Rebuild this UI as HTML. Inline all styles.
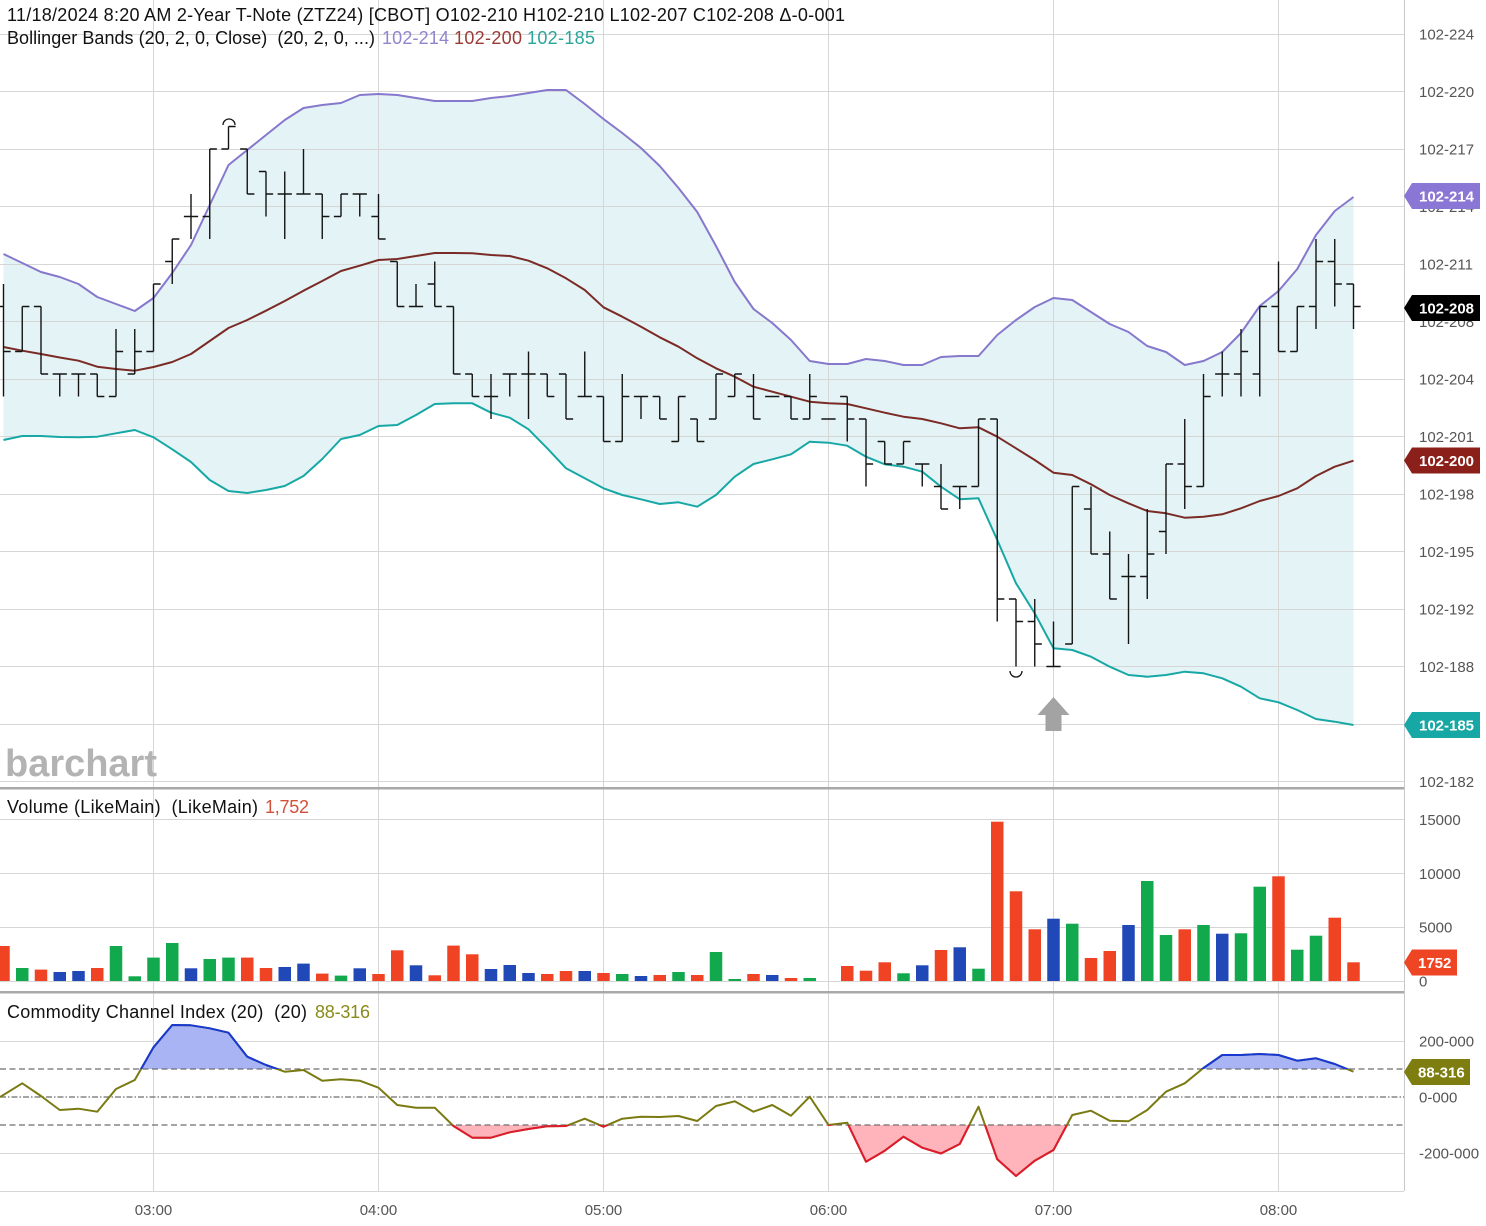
<!DOCTYPE html>
<html><head><meta charset="utf-8"><style>html,body{margin:0;padding:0;background:#fff}svg{display:block}</style></head>
<body>
<svg xmlns="http://www.w3.org/2000/svg" width="1486" height="1226" viewBox="0 0 1486 1226" font-family="'Liberation Sans', Arial, sans-serif">
<rect width="1486" height="1226" fill="#fff"/>
<defs>
<clipPath id="pc"><rect x="0" y="0" width="1404" height="787"/></clipPath>
<clipPath id="pl"><rect x="1405" y="0" width="81" height="787"/></clipPath>
<clipPath id="above"><rect x="0" y="993" width="1404" height="76"/></clipPath>
<clipPath id="below"><rect x="0" y="1125" width="1404" height="66"/></clipPath>
<polyline id="cci" points="0,1097 22.25,1083.3 41,1096 59.75,1110 78.5,1108.7 97.25,1111.7 116,1089 134.75,1080 153.5,1047.3 172.25,1025 191,1025.3 209.75,1028.3 228.5,1032.7 247.25,1056.7 266,1065 284.75,1071.7 303.5,1070 322.25,1080.7 341,1079.3 359.75,1080.7 378.5,1087.7 397.25,1105 416,1107.7 434.75,1107.7 453.5,1126 472.25,1137.7 491,1137.7 509.75,1132.3 528.5,1129 547.25,1126.3 566,1126 584.75,1118.7 603.5,1126.7 622.25,1118.7 641,1116.7 659.75,1117 678.5,1116 697.25,1121 716,1106 734.75,1101.3 753.5,1111.7 772.25,1105 791,1115.7 809.75,1096.7 828.5,1125 847.25,1122.7 866,1161.7 884.75,1150.7 903.5,1136.7 922.25,1147.7 941,1153.5 959.75,1144 978.5,1106.7 997.25,1159.3 1016,1176 1034.75,1160.7 1053.5,1150 1072.25,1115 1091,1110.7 1109.75,1120.7 1128.5,1121.3 1147.25,1110 1166,1091.7 1184.75,1083.3 1203.5,1068 1222.25,1055 1241,1055 1259.75,1054 1278.5,1055 1297.25,1060.7 1316,1058.3 1334.75,1064 1353.5,1071.7"/>
</defs>

<!-- Bollinger fill -->
<polygon fill="#e4f3f5" points="3.5,254 22.25,263 41,272 59.75,277 78.5,284 97.25,297 116,304 134.75,311 153.5,298 172.25,273 191,245 209.75,205 228.5,165 247.25,150 266,135 284.75,120 303.5,108 322.25,105 341,103 359.75,95 378.5,94 397.25,95 416,98 434.75,101 453.5,101 472.25,101 491,98 509.75,96 528.5,93 547.25,90 566,90 584.75,104 603.5,119 622.25,133 641,148 659.75,166 678.5,188 697.25,212 716,246 734.75,282 753.5,309 772.25,323 791,340 809.75,361 828.5,364 847.25,364 866,359 884.75,361 903.5,365 922.25,365 941,357 959.75,356 978.5,356 997.25,335 1016,320 1034.75,307 1053.5,298 1072.25,300 1091,312 1109.75,324 1128.5,332 1147.25,346 1166,352 1184.75,365 1203.5,361 1222.25,352 1241,333 1259.75,306 1278.5,291 1297.25,269 1316,235 1334.75,211 1353.5,197 1353.5,725 1334.75,721.7 1316,719 1297.25,710 1278.5,702.3 1259.75,698.3 1241,686.7 1222.25,678.3 1203.5,673.3 1184.75,671.7 1166,675 1147.25,676.7 1128.5,675 1109.75,666.7 1091,656.7 1072.25,650 1053.5,648.3 1034.75,613.3 1016,583.3 997.25,540 978.5,498.3 959.75,499.3 941,486.7 922.25,471.7 903.5,466.7 884.75,464.3 866,456.7 847.25,445.7 828.5,442.7 809.75,441.7 791,454.3 772.25,459.3 753.5,464 734.75,476.7 716,495 697.25,506.7 678.5,502.3 659.75,504 641,499.3 622.25,495 603.5,488.3 584.75,478.3 566,468.3 547.25,448.3 528.5,429.3 509.75,417.7 491,412.7 472.25,403.3 453.5,403.3 434.75,404 416,415 397.25,425 378.5,426 359.75,435 341,439 322.25,459 303.5,476 284.75,486 266,490 247.25,493 228.5,491 209.75,480 191,462 172.25,449.3 153.5,437.3 134.75,430 116,433.3 97.25,436.7 78.5,437.3 59.75,437 41,436 22.25,436 3.5,440"/>

<!-- grid -->
<g stroke="#d6d6d6" stroke-width="1" fill="none">
<path d="M0 34.5H1404M0 91.5H1404M0 149.5H1404M0 206.5H1404M0 264.5H1404M0 321.5H1404M0 379.5H1404M0 436.5H1404M0 494.5H1404M0 551.5H1404M0 609.5H1404M0 666.5H1404M0 724.5H1404M0 781.5H1404"/>
<path d="M0 819.5H1404M0 873.5H1404M0 927.5H1404M0 981.5H1404"/>
<path d="M0 1041.5H1404M0 1153.5H1404M0 1191.5H1404"/>
<path d="M153.5 0V1191M378.5 0V1191M603.5 0V1191M828.5 0V1191M1053.5 0V1191M1278.5 0V1191"/>
</g>
<path d="M1404.5 0V1191" stroke="#c8c8c8" stroke-width="1"/>

<!-- bands -->
<g fill="none" stroke-width="2" stroke-linejoin="round" clip-path="url(#pc)">
<polyline stroke="#8678cc" points="3.5,254 22.25,263 41,272 59.75,277 78.5,284 97.25,297 116,304 134.75,311 153.5,298 172.25,273 191,245 209.75,205 228.5,165 247.25,150 266,135 284.75,120 303.5,108 322.25,105 341,103 359.75,95 378.5,94 397.25,95 416,98 434.75,101 453.5,101 472.25,101 491,98 509.75,96 528.5,93 547.25,90 566,90 584.75,104 603.5,119 622.25,133 641,148 659.75,166 678.5,188 697.25,212 716,246 734.75,282 753.5,309 772.25,323 791,340 809.75,361 828.5,364 847.25,364 866,359 884.75,361 903.5,365 922.25,365 941,357 959.75,356 978.5,356 997.25,335 1016,320 1034.75,307 1053.5,298 1072.25,300 1091,312 1109.75,324 1128.5,332 1147.25,346 1166,352 1184.75,365 1203.5,361 1222.25,352 1241,333 1259.75,306 1278.5,291 1297.25,269 1316,235 1334.75,211 1353.5,197"/>
<polyline stroke="#7b2b26" points="3.5,347 22.25,350.7 41,354 59.75,357.5 78.5,360.7 97.25,366.7 116,369 134.75,370.7 153.5,367 172.25,362 191,354 209.75,341 228.5,328 247.25,320 266,310.7 284.75,301 303.5,290.7 322.25,281 341,271 359.75,265.7 378.5,260 397.25,259 416,256 434.75,253 453.5,253 472.25,253.3 491,255 509.75,256 528.5,260.7 547.25,268.3 566,278.3 584.75,290 603.5,307.3 622.25,316.7 641,326.7 659.75,337.3 678.5,346.7 697.25,358.3 716,368.3 734.75,376.7 753.5,386.7 772.25,391.7 791,396.7 809.75,401.7 828.5,403.3 847.25,404 866,408.3 884.75,412.7 903.5,416.7 922.25,419 941,423.3 959.75,428.3 978.5,427.3 997.25,436.7 1016,448.3 1034.75,460 1053.5,472.7 1072.25,475 1091,484.3 1109.75,495 1128.5,503.3 1147.25,511 1166,513.3 1184.75,517.7 1203.5,516.7 1222.25,514.3 1241,508.3 1259.75,501 1278.5,496 1297.25,488.3 1316,476 1334.75,466.7 1353.5,460.7"/>
<polyline stroke="#17a8a6" points="3.5,440 22.25,436 41,436 59.75,437 78.5,437.3 97.25,436.7 116,433.3 134.75,430 153.5,437.3 172.25,449.3 191,462 209.75,480 228.5,491 247.25,493 266,490 284.75,486 303.5,476 322.25,459 341,439 359.75,435 378.5,426 397.25,425 416,415 434.75,404 453.5,403.3 472.25,403.3 491,412.7 509.75,417.7 528.5,429.3 547.25,448.3 566,468.3 584.75,478.3 603.5,488.3 622.25,495 641,499.3 659.75,504 678.5,502.3 697.25,506.7 716,495 734.75,476.7 753.5,464 772.25,459.3 791,454.3 809.75,441.7 828.5,442.7 847.25,445.7 866,456.7 884.75,464.3 903.5,466.7 922.25,471.7 941,486.7 959.75,499.3 978.5,498.3 997.25,540 1016,583.3 1034.75,613.3 1053.5,648.3 1072.25,650 1091,656.7 1109.75,666.7 1128.5,675 1147.25,676.7 1166,675 1184.75,671.7 1203.5,673.3 1222.25,678.3 1241,686.7 1259.75,698.3 1278.5,702.3 1297.25,710 1316,719 1334.75,721.7 1353.5,725"/>
</g>

<!-- OHLC bars -->
<g transform="translate(153.5,149) scale(18.75,22.5)">
<path fill="none" stroke="#141414" stroke-width="1.4" vector-effect="non-scaling-stroke" d="M-8 6V11M-8.38 7H-8M-8 9H-7.62 M-7 7V9M-7.38 9H-7M-7 7H-6.62 M-6 7V10M-6.38 7H-6M-6 10H-5.62 M-5 10V11M-5.38 10H-5M-5 10H-4.62 M-4 10V11M-4.38 10H-4M-4 10H-3.62 M-3 10V11M-3.38 10H-3M-3 11H-2.62 M-2 8V11M-2.38 11H-2M-2 9H-1.62 M-1 8V10M-1.38 10H-1M-1 9H-0.62 M0 6V9M-0.38 9H0M0 6H0.38 M1 4V6M0.62 5H1M1 4H1.38 M2 2V4M1.62 3H2M2 3H2.38 M3 0V4M2.62 3H3M3 0H3.38 M4 -1V0M3.62 0H4M4 -1H4.38 M5 0V2M4.62 0H5M5 2H5.38 M6 1V3M5.62 1H6M6 2H6.38 M7 1V4M6.62 2H7M7 2H7.38 M8 0V2M7.62 2H8M8 2H8.38 M9 2V4M8.62 2H9M9 3H9.38 M10 2V3M9.62 3H10M10 2H10.38 M11 2V3M10.62 2H11M11 2H11.38 M12 2V4M11.62 3H12M12 4H12.38 M13 5V7M12.62 5H13M13 7H13.38 M14 6V7M13.62 7H14M14 7H14.38 M15 5V7M14.62 6H15M15 7H15.38 M16 7V10M15.62 7H16M16 10H16.38 M17 10V11M16.62 10H17M17 11H17.38 M18 10V12M17.62 11H18M18 11H18.38 M19 10V11M18.62 10H19M19 10H19.38 M20 9V12M19.62 10H20M20 10H20.38 M21 10V11M20.62 10H21M21 11H21.38 M22 10V12M21.62 10H22M22 12H22.38 M23 9V11M22.62 11H23M23 11H23.38 M24 11V13M23.62 11H24M24 13H24.38 M25 10V13M24.62 13H25M25 11H25.38 M26 11V12M25.62 11H26M26 11H26.38 M27 11V12M26.62 11H27M27 12H27.38 M28 11V13M27.62 13H28M28 11H28.38 M29 12V13M28.62 12H29M29 13H29.38 M30 10V12M29.62 12H30M30 10H30.38 M31 10V11M30.62 11H31M31 10H31.38 M32 10V12M31.62 11H32M32 12H32.38 M32.62 11H33.38 M34 11V12M33.62 11H34M34 12H34.38 M35 10V12M34.62 12H35M35 11H35.38 M35.62 12H36.38 M37 11V13M36.62 11H37M37 12H37.38 M38 12V15M37.62 12H38M38 14H38.38 M39 13V14M38.62 13H39M39 14H39.38 M40 13V14M39.62 14H40M40 13H40.38 M41 14V15M40.62 14H41M41 14H41.38 M42 14V16M41.62 15H42M42 16H42.38 M43 15V16M42.62 15H43M43 15H43.38 M44 12V15M43.62 15H44M44 12H44.38 M45 12V21M44.62 12H45M45 20H45.38 M46 20V23M45.62 20H46M46 21H46.38 M47 20V23M46.62 21H47M47 22H47.38 M48 21V23M47.62 23H48M48 23H48.38 M49 15V22M48.62 22H49M49 15H49.38 M50 15V18M49.62 16H50M50 18H50.38 M51 17V20M50.62 18H51M51 20H51.38 M52 18V22M51.62 19H52M52 19H52.38 M53 16V20M52.62 19H53M53 18H53.38 M54 14V18M53.62 17H54M54 14H54.38 M55 12V16M54.62 14H55M55 15H55.38 M56 10V15M55.62 15H56M56 11H56.38 M57 9V11M56.62 10H57M57 10H57.38 M58 8V11M57.62 10H58M58 9H58.38 M59 7V11M58.62 10H59M59 7H59.38 M60 5V9M59.62 7H60M60 9H60.38 M61 7V9M60.62 9H61M61 7H61.38 M62 4V8M61.62 7H62M62 5H62.38 M63 4V7M62.62 5H63M63 6H63.38 M64 6V8M63.62 6H64M64 7H64.38"/>
</g>
<path d="M223 125 A6 6 0 0 1 235 125" fill="none" stroke="#141414" stroke-width="1.3"/>
<path d="M1010 671 A6 6 0 0 0 1022 671" fill="none" stroke="#141414" stroke-width="1.3"/>
<polygon fill="#a3a3a3" points="1053.5,697 1069.5,715 1061.5,715 1061.5,731 1045.5,731 1045.5,715 1037.5,715"/>

<text x="5" y="776" font-size="38" font-weight="bold" fill="#b3b3b3" textLength="152" lengthAdjust="spacingAndGlyphs">barchart</text>

<!-- separators -->
<rect x="0" y="787" width="1404" height="2.5" fill="#a9a9a9"/>
<rect x="0" y="991" width="1404" height="2.5" fill="#a9a9a9"/>

<!-- volume -->
<g fill="#f04324">
<rect x="-2.75" y="946" width="12.5" height="35"/><rect x="34.75" y="969.6" width="12.5" height="11.4"/><rect x="91" y="968" width="12.5" height="13"/><rect x="241" y="957.6" width="12.5" height="23.4"/><rect x="259.75" y="968" width="12.5" height="13"/><rect x="316" y="973.6" width="12.5" height="7.4"/><rect x="372.25" y="974" width="12.5" height="7"/><rect x="391" y="950.3" width="12.5" height="30.7"/><rect x="428.5" y="975.3" width="12.5" height="5.7"/><rect x="447.25" y="945.6" width="12.5" height="35.4"/><rect x="466" y="954.3" width="12.5" height="26.7"/><rect x="541" y="974" width="12.5" height="7"/><rect x="559.75" y="971" width="12.5" height="10"/><rect x="597.25" y="973" width="12.5" height="8"/><rect x="653.5" y="975" width="12.5" height="6"/><rect x="691" y="975" width="12.5" height="6"/><rect x="747.25" y="974" width="12.5" height="7"/><rect x="784.75" y="978" width="12.5" height="3"/><rect x="841" y="966" width="12.5" height="15"/><rect x="859.75" y="970.7" width="12.5" height="10.3"/><rect x="878.5" y="962.3" width="12.5" height="18.7"/><rect x="934.75" y="950" width="12.5" height="31"/><rect x="991" y="821.7" width="12.5" height="159.3"/><rect x="1009.75" y="891.3" width="12.5" height="89.7"/><rect x="1028.5" y="929.3" width="12.5" height="51.7"/><rect x="1084.75" y="958" width="12.5" height="23"/><rect x="1103.5" y="951" width="12.5" height="30"/><rect x="1178.5" y="929.3" width="12.5" height="51.7"/><rect x="1272.25" y="876.3" width="12.5" height="104.7"/><rect x="1328.5" y="917.7" width="12.5" height="63.3"/><rect x="1347.25" y="962.3" width="12.5" height="18.7"/>
</g>
<g fill="#12a94e">
<rect x="16" y="968" width="12.5" height="13"/><rect x="109.75" y="946" width="12.5" height="35"/><rect x="128.5" y="976.3" width="12.5" height="4.7"/><rect x="147.25" y="957.6" width="12.5" height="23.4"/><rect x="166" y="943" width="12.5" height="38"/><rect x="203.5" y="959" width="12.5" height="22"/><rect x="222.25" y="957.6" width="12.5" height="23.4"/><rect x="334.75" y="975.6" width="12.5" height="5.4"/><rect x="616" y="974" width="12.5" height="7"/><rect x="672.25" y="972" width="12.5" height="9"/><rect x="709.75" y="952" width="12.5" height="29"/><rect x="728.5" y="979" width="12.5" height="2"/><rect x="803.5" y="978" width="12.5" height="3"/><rect x="897.25" y="973.3" width="12.5" height="7.7"/><rect x="972.25" y="968.7" width="12.5" height="12.3"/><rect x="1066" y="923.7" width="12.5" height="57.3"/><rect x="1141" y="881" width="12.5" height="100"/><rect x="1159.75" y="935" width="12.5" height="46"/><rect x="1197.25" y="925" width="12.5" height="56"/><rect x="1234.75" y="933.3" width="12.5" height="47.7"/><rect x="1253.5" y="886.7" width="12.5" height="94.3"/><rect x="1291" y="949.7" width="12.5" height="31.3"/><rect x="1309.75" y="935.7" width="12.5" height="45.3"/>
</g>
<g fill="#2148b7">
<rect x="53.5" y="972" width="12.5" height="9"/><rect x="72.25" y="971" width="12.5" height="10"/><rect x="184.75" y="968.3" width="12.5" height="12.7"/><rect x="278.5" y="967" width="12.5" height="14"/><rect x="297.25" y="963.6" width="12.5" height="17.4"/><rect x="353.5" y="968.3" width="12.5" height="12.7"/><rect x="409.75" y="965.3" width="12.5" height="15.7"/><rect x="484.75" y="969" width="12.5" height="12"/><rect x="503.5" y="965" width="12.5" height="16"/><rect x="522.25" y="973" width="12.5" height="8"/><rect x="578.5" y="971" width="12.5" height="10"/><rect x="634.75" y="976" width="12.5" height="5"/><rect x="766" y="975" width="12.5" height="6"/><rect x="916" y="965.3" width="12.5" height="15.7"/><rect x="953.5" y="947.3" width="12.5" height="33.7"/><rect x="1047.25" y="918.7" width="12.5" height="62.3"/><rect x="1122.25" y="925" width="12.5" height="56"/><rect x="1216" y="933.7" width="12.5" height="47.3"/>
</g>

<!-- CCI -->
<polygon clip-path="url(#above)" fill="#a9b4f5" points="0,1097 22.25,1083.3 41,1096 59.75,1110 78.5,1108.7 97.25,1111.7 116,1089 134.75,1080 153.5,1047.3 172.25,1025 191,1025.3 209.75,1028.3 228.5,1032.7 247.25,1056.7 266,1065 284.75,1071.7 303.5,1070 322.25,1080.7 341,1079.3 359.75,1080.7 378.5,1087.7 397.25,1105 416,1107.7 434.75,1107.7 453.5,1126 472.25,1137.7 491,1137.7 509.75,1132.3 528.5,1129 547.25,1126.3 566,1126 584.75,1118.7 603.5,1126.7 622.25,1118.7 641,1116.7 659.75,1117 678.5,1116 697.25,1121 716,1106 734.75,1101.3 753.5,1111.7 772.25,1105 791,1115.7 809.75,1096.7 828.5,1125 847.25,1122.7 866,1161.7 884.75,1150.7 903.5,1136.7 922.25,1147.7 941,1153.5 959.75,1144 978.5,1106.7 997.25,1159.3 1016,1176 1034.75,1160.7 1053.5,1150 1072.25,1115 1091,1110.7 1109.75,1120.7 1128.5,1121.3 1147.25,1110 1166,1091.7 1184.75,1083.3 1203.5,1068 1222.25,1055 1241,1055 1259.75,1054 1278.5,1055 1297.25,1060.7 1316,1058.3 1334.75,1064 1353.5,1071.7 1353.5,1069 0,1069"/>
<polygon clip-path="url(#below)" fill="#ffb3bb" points="0,1097 22.25,1083.3 41,1096 59.75,1110 78.5,1108.7 97.25,1111.7 116,1089 134.75,1080 153.5,1047.3 172.25,1025 191,1025.3 209.75,1028.3 228.5,1032.7 247.25,1056.7 266,1065 284.75,1071.7 303.5,1070 322.25,1080.7 341,1079.3 359.75,1080.7 378.5,1087.7 397.25,1105 416,1107.7 434.75,1107.7 453.5,1126 472.25,1137.7 491,1137.7 509.75,1132.3 528.5,1129 547.25,1126.3 566,1126 584.75,1118.7 603.5,1126.7 622.25,1118.7 641,1116.7 659.75,1117 678.5,1116 697.25,1121 716,1106 734.75,1101.3 753.5,1111.7 772.25,1105 791,1115.7 809.75,1096.7 828.5,1125 847.25,1122.7 866,1161.7 884.75,1150.7 903.5,1136.7 922.25,1147.7 941,1153.5 959.75,1144 978.5,1106.7 997.25,1159.3 1016,1176 1034.75,1160.7 1053.5,1150 1072.25,1115 1091,1110.7 1109.75,1120.7 1128.5,1121.3 1147.25,1110 1166,1091.7 1184.75,1083.3 1203.5,1068 1222.25,1055 1241,1055 1259.75,1054 1278.5,1055 1297.25,1060.7 1316,1058.3 1334.75,1064 1353.5,1071.7 1353.5,1125 0,1125"/>
<g stroke="#6e6e6e" stroke-width="1.3" fill="none">
<path d="M0 1069H1404M0 1125H1404" stroke-dasharray="6 3.5"/>
<path d="M0 1097H1404" stroke-dasharray="6 2 1.5 2"/>
</g>
<use href="#cci" fill="none" stroke="#7a7a12" stroke-width="2" stroke-linejoin="round"/>
<g clip-path="url(#above)"><use href="#cci" fill="none" stroke="#1738d2" stroke-width="2" stroke-linejoin="round"/></g>
<g clip-path="url(#below)"><use href="#cci" fill="none" stroke="#e01a2e" stroke-width="2" stroke-linejoin="round"/></g>

<!-- header texts -->
<text x="7" y="21" font-size="18" fill="#111" textLength="838" lengthAdjust="spacing">11/18/2024 8:20 AM 2-Year T-Note (ZTZ24) [CBOT] O102-210 H102-210 L102-207 C102-208 Δ-0-001</text>
<text x="7" y="44" font-size="18" fill="#111" textLength="368" lengthAdjust="spacing" xml:space="preserve">Bollinger Bands (20, 2, 0, Close)  (20, 2, 0, ...)</text>
<text x="382" y="44" font-size="18" fill="#8f86cc" textLength="67" lengthAdjust="spacing">102-214</text>
<text x="454" y="44" font-size="18" fill="#9b3b35" textLength="68" lengthAdjust="spacing">102-200</text>
<text x="527" y="44" font-size="18" fill="#2aa59a" textLength="68" lengthAdjust="spacing">102-185</text>
<text x="7" y="813" font-size="18" fill="#111" textLength="251" lengthAdjust="spacing" xml:space="preserve">Volume (LikeMain)  (LikeMain)</text>
<text x="265" y="813" font-size="18" fill="#d4503a" textLength="44" lengthAdjust="spacing">1,752</text>
<text x="7" y="1018" font-size="18" fill="#111" textLength="300" lengthAdjust="spacing" xml:space="preserve">Commodity Channel Index (20)  (20)</text>
<text x="315" y="1018" font-size="18" fill="#8a8a1a" textLength="55" lengthAdjust="spacing">88-316</text>

<!-- right axis labels -->
<g font-size="15" fill="#555">
<g clip-path="url(#pl)">
<text x="1419" y="39.5">102-224</text>
<text x="1419" y="97">102-220</text>
<text x="1419" y="154.5">102-217</text>
<text x="1419" y="212">102-214</text>
<text x="1419" y="269.5">102-211</text>
<text x="1419" y="327">102-208</text>
<text x="1419" y="384.5">102-204</text>
<text x="1419" y="442">102-201</text>
<text x="1419" y="499.5">102-198</text>
<text x="1419" y="557">102-195</text>
<text x="1419" y="614.5">102-192</text>
<text x="1419" y="672">102-188</text>
<text x="1419" y="729.5">102-185</text>
<text x="1419" y="787">102-182</text>
</g>
<text x="1419" y="825">15000</text>
<text x="1419" y="879">10000</text>
<text x="1419" y="932.5">5000</text>
<text x="1419" y="986.5">0</text>
<text x="1419" y="1046.5">200-000</text>
<text x="1419" y="1102.5">0-000</text>
<text x="1419" y="1158.5">-200-000</text>
<text x="153.5" y="1215" text-anchor="middle">03:00</text>
<text x="378.5" y="1215" text-anchor="middle">04:00</text>
<text x="603.5" y="1215" text-anchor="middle">05:00</text>
<text x="828.5" y="1215" text-anchor="middle">06:00</text>
<text x="1053.5" y="1215" text-anchor="middle">07:00</text>
<text x="1278.5" y="1215" text-anchor="middle">08:00</text>
</g>

<!-- badges -->
<polygon fill="#8a76d4" points="1404,196 1412,183 1480,183 1480,209 1412,209"/>
<polygon fill="#000" points="1404,308 1412,295 1480,295 1480,321 1412,321"/>
<polygon fill="#8b1f1a" points="1404,460.5 1412,447.5 1480,447.5 1480,473.5 1412,473.5"/>
<polygon fill="#17a8a6" points="1404,725 1412,712 1480,712 1480,738 1412,738"/>
<polygon fill="#ee4524" points="1404,962.5 1412,949.5 1457,949.5 1457,975.5 1412,975.5"/>
<polygon fill="#7d7d10" points="1404,1072 1412,1059 1470,1059 1470,1085 1412,1085"/>
<g font-size="15" font-weight="bold" fill="#fff">
<text x="1419" y="201.5" textLength="55" lengthAdjust="spacing">102-214</text>
<text x="1419" y="313.5" textLength="55" lengthAdjust="spacing">102-208</text>
<text x="1419" y="466" textLength="55" lengthAdjust="spacing">102-200</text>
<text x="1419" y="730.5" textLength="55" lengthAdjust="spacing">102-185</text>
<text x="1418" y="968">1752</text>
<text x="1418" y="1077.5">88-316</text>
</g>
</svg>
</body></html>
